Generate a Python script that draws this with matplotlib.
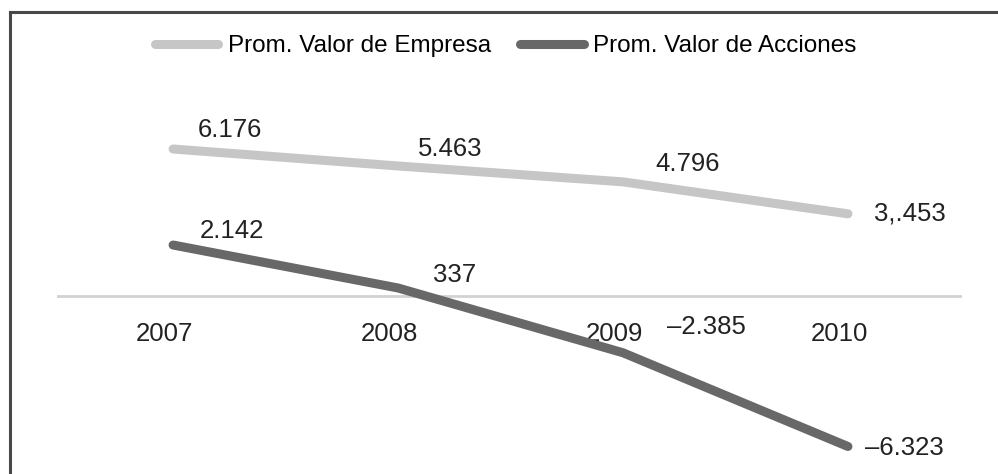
import matplotlib.pyplot as plt
from matplotlib.lines import Line2D

plt.rcParams['font.family'] = ['Liberation Sans', 'DejaVu Sans']

years = ['2007', '2008', '2009', '2010']
empresa = [6.176, 5.463, 4.796, 3.453]
acciones = [2.142, 0.337, -2.385, -6.323]
empresa_labels = ['6.176', '5.463', '4.796', '3,.453']
acciones_labels = ['2.142', '337', '–2.385', '–6.323']

light = '#c6c6c6'
dark = '#686868'
txt = '#222222'
fs = 18.5

W, H = 998, 474
fig = plt.figure(figsize=(W / 100, H / 100), dpi=100)
# axes span: x 57..962 px, y 100..460 px (from top)
ax = fig.add_axes([57 / W, 1 - 460 / H, (962 - 57) / W, 360 / H])
x = list(range(len(years)))

ax.plot(x, empresa, color=light, lw=6.5, solid_capstyle='round',
        solid_joinstyle='round', label='Prom. Valor de Empresa', zorder=3)
ax.plot(x, acciones, color=dark, lw=6.5, solid_capstyle='round',
        solid_joinstyle='round', label='Prom. Valor de Acciones', zorder=3)

ax.set_xlim(-0.516, 3.507)
ax.set_ylim(-(460 - 296) / 23.8, (296 - 100) / 23.8)
ax.axhline(0, color='#d2d2d2', lw=2, zorder=1)
for s in ax.spines.values():
    s.set_visible(False)
ax.set_xticks([])
ax.set_yticks([])

# data labels (offsets in pixels)
emp_off = [(57, 19), (52, 17), (65, 18), (62, 0)]
acc_off = [(59, 14), (57, 13), (83, 26), (56, -2)]
for xi, v, t, o in zip(x, empresa, empresa_labels, emp_off):
    ax.annotate(t, (xi, v), xytext=o, textcoords='offset pixels',
                ha='center', va='center', fontsize=fs, color=txt)
for xi, v, t, o in zip(x, acciones, acciones_labels, acc_off):
    ax.annotate(t, (xi, v), xytext=o, textcoords='offset pixels',
                ha='center', va='center', fontsize=fs, color=txt)

# year labels below the zero line
for xi, yr in zip(x, years):
    ax.annotate(yr, (xi, 0), xytext=(-9, -38), textcoords='offset pixels',
                ha='center', va='center', fontsize=fs, color=txt, zorder=2)

fig.legend(loc='center', bbox_to_anchor=(506 / W, 1 - 46 / H), ncol=2,
           frameon=False, fontsize=17.5, handlelength=2.6, handletextpad=0.4,
           columnspacing=1.2)

# frame: left and top edges
fig.add_artist(Line2D([10 / W, 10 / W], [0, 1 - 12 / H], color='#484848', lw=2.2,
                      transform=fig.transFigure))
fig.add_artist(Line2D([10 / W, 1], [1 - 12 / H, 1 - 12 / H], color='#484848', lw=2.2,
                      transform=fig.transFigure, solid_capstyle='projecting'))

fig.savefig('out.png', dpi=100)
